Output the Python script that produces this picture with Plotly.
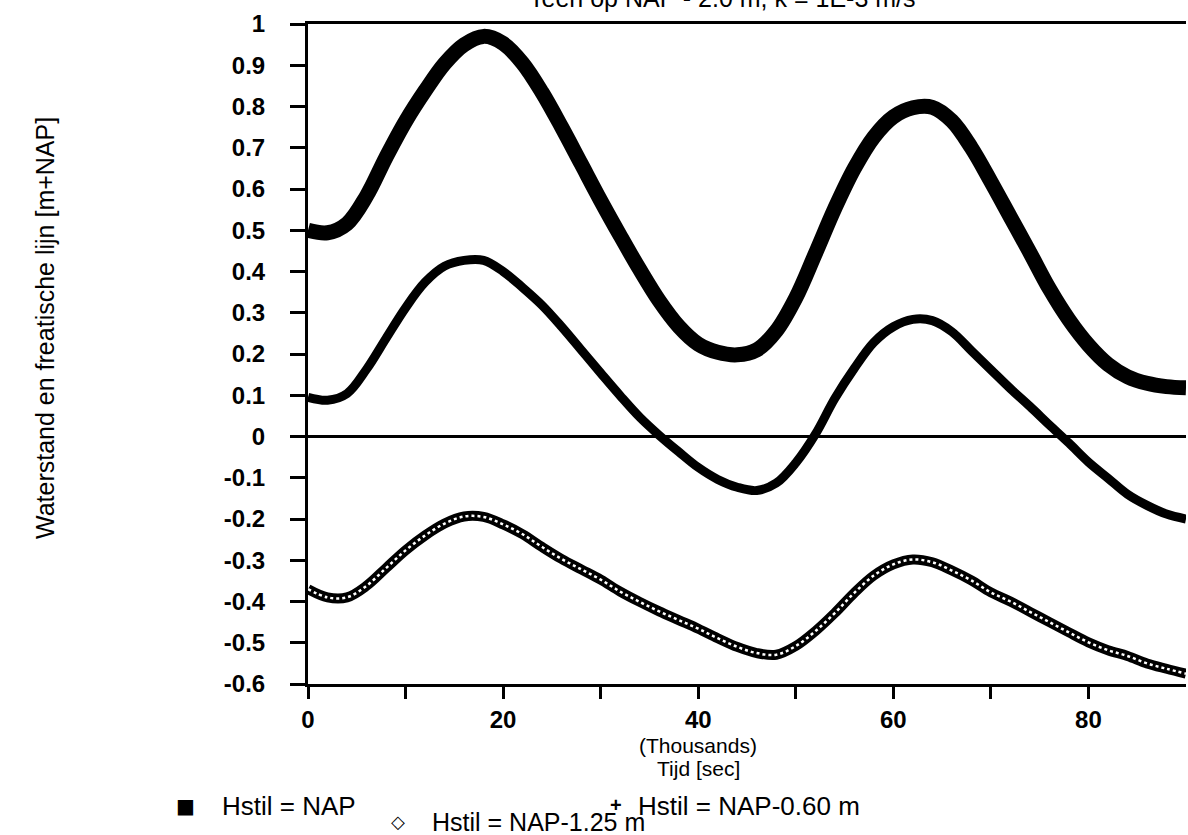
import plotly.graph_objects as go

# Time in thousands of seconds
tijd = [0, 2, 4, 6, 8, 10, 12, 14, 16, 18, 20, 22, 24, 26, 28, 30, 32, 34, 36, 38, 40, 42, 44,
        46, 48, 50, 52, 54, 56, 58, 60, 62, 64, 66, 68, 70, 72, 74, 76, 78, 80, 82, 84, 86, 88, 90]

hstil_nap = [0.500, 0.494, 0.516, 0.583, 0.677, 0.764, 0.838, 0.904, 0.950, 0.970, 0.953, 0.905,
             0.834, 0.750, 0.661, 0.572, 0.487, 0.405, 0.329, 0.267, 0.224, 0.204, 0.198,
             0.210, 0.256, 0.336, 0.443, 0.553, 0.650, 0.726, 0.775, 0.797, 0.798, 0.765,
             0.700, 0.618, 0.532, 0.446, 0.358, 0.283, 0.222, 0.175, 0.145, 0.129, 0.121, 0.118]

hstil_060 = [0.095, 0.088, 0.104, 0.163, 0.238, 0.312, 0.374, 0.413, 0.427, 0.427, 0.400, 0.361,
             0.318, 0.266, 0.210, 0.154, 0.099, 0.047, 0.003, -0.037, -0.075, -0.104, -0.123,
             -0.131, -0.113, -0.064, 0.005, 0.092, 0.165, 0.228, 0.266, 0.284, 0.281, 0.254,
             0.208, 0.162, 0.116, 0.073, 0.028, -0.016, -0.062, -0.101, -0.140, -0.167, -0.188, -0.200]

hstil_125 = [-0.370, -0.390, -0.390, -0.362, -0.319, -0.276, -0.240, -0.211, -0.194, -0.195, -0.213,
             -0.237, -0.268, -0.297, -0.322, -0.347, -0.376, -0.401, -0.424, -0.445, -0.466, -0.489,
             -0.510, -0.525, -0.529, -0.508, -0.472, -0.428, -0.379, -0.337, -0.310, -0.298, -0.305,
             -0.325, -0.349, -0.378, -0.400, -0.425, -0.450, -0.475, -0.499, -0.518, -0.532, -0.550,
             -0.563, -0.575]

y_tickvals = [-0.6, -0.5, -0.4, -0.3, -0.2, -0.1, 0, 0.1, 0.2, 0.3, 0.4, 0.5, 0.6, 0.7, 0.8, 0.9, 1]
y_ticktext = ["-0.6", "-0.5", "-0.4", "-0.3", "-0.2", "-0.1", "0", "0.1", "0.2", "0.3", "0.4",
              "0.5", "0.6", "0.7", "0.8", "0.9", "1"]
x_tickvals = [0, 10, 20, 30, 40, 50, 60, 70, 80]
x_ticktext = ["0", "", "20", "", "40", "", "60", "", "80"]

series_names = ["Hstil = NAP", "Hstil = NAP-0.60 m", "Hstil = NAP-1.25 m"]

FONT = "Liberation Sans, Arial, Helvetica, sans-serif"

fig = go.Figure()
fig.add_trace(go.Scatter(x=tijd, y=hstil_nap, mode="lines", name=series_names[0],
                         line=dict(color="black", width=15, shape="spline")))
fig.add_trace(go.Scatter(x=tijd, y=hstil_060, mode="lines", name=series_names[1],
                         line=dict(color="black", width=9, shape="spline")))
fig.add_trace(go.Scatter(x=tijd, y=hstil_125, mode="lines", name=series_names[2],
                         line=dict(color="black", width=10, shape="spline")))
fig.add_trace(go.Scatter(x=tijd, y=hstil_125, mode="lines", showlegend=False, hoverinfo="skip",
                         line=dict(color="white", width=2.5, shape="spline", dash="dot")))

W, H = 1188, 835
ML, MR, MT, MB = 308, 2, 24, 151
PW, PH = W - ML - MR, H - MT - MB


def px(xp):
    return (xp - ML) / PW


def py(yp):
    return (H - MB - yp) / PH


fig.update_layout(
    width=W, height=H, autosize=False,
    margin=dict(l=ML, r=MR, t=MT, b=MB, pad=0),
    paper_bgcolor="white", plot_bgcolor="white",
    showlegend=False,
    font=dict(family=FONT, color="black"),
    xaxis=dict(range=[0, 90], showgrid=False, zeroline=False,
               showline=True, linecolor="black", linewidth=3, mirror=True,
               ticks="outside", ticklen=12, tickwidth=3, tickcolor="black",
               tickvals=x_tickvals, ticktext=x_ticktext,
               tickfont=dict(size=24, family=FONT, weight="bold", color="black")),
    yaxis=dict(range=[-0.6, 1], showgrid=False,
               zeroline=True, zerolinecolor="black", zerolinewidth=2.5,
               showline=True, linecolor="black", linewidth=3, mirror=False,
               ticks="outside", ticklen=15, tickwidth=3, tickcolor="black",
               tickvals=y_tickvals, ticktext=y_ticktext, ticklabelstandoff=20,
               tickfont=dict(size=24, family=FONT, weight="bold", color="black")),
)

ann = []
ann.append(dict(text="Teen op NAP - 2.0 m, k = 1E-3 m/s", x=px(722), y=py(-2),
                xref="paper", yref="paper", xanchor="center", yanchor="middle",
                showarrow=False, font=dict(size=25, family=FONT)))
ann.append(dict(text="Waterstand en freatische lijn [m+NAP]", x=px(45), y=py(328),
                xref="paper", yref="paper", xanchor="center", yanchor="middle",
                textangle=-90, showarrow=False, font=dict(size=25, family=FONT)))
ann.append(dict(text="(Thousands)", x=px(698), y=py(745), xref="paper", yref="paper",
                xanchor="center", yanchor="middle", showarrow=False,
                font=dict(size=21, family=FONT)))
ann.append(dict(text="Tijd [sec]", x=px(698), y=py(768), xref="paper", yref="paper",
                xanchor="center", yanchor="middle", showarrow=False,
                font=dict(size=21, family=FONT)))
# legend
ann.append(dict(text="■", x=px(185), y=py(806), xref="paper", yref="paper",
                xanchor="center", yanchor="middle", showarrow=False,
                font=dict(size=20, family="DejaVu Sans")))
ann.append(dict(text=series_names[0], x=px(220), y=py(806), xref="paper", yref="paper",
                xanchor="left", yanchor="middle", showarrow=False,
                font=dict(size=26, family=FONT)))
ann.append(dict(text="<b>+</b>", x=px(616), y=py(805), xref="paper", yref="paper",
                xanchor="center", yanchor="middle", showarrow=False,
                font=dict(size=20, family=FONT)))
ann.append(dict(text=series_names[1], x=px(636), y=py(806), xref="paper", yref="paper",
                xanchor="left", yanchor="middle", showarrow=False,
                font=dict(size=26, family=FONT)))
ann.append(dict(text="<b>◇</b>", x=px(398), y=py(822), xref="paper", yref="paper",
                xanchor="center", yanchor="middle", showarrow=False,
                font=dict(size=18, family="DejaVu Sans")))
ann.append(dict(text=series_names[2], x=px(430), y=py(822), xref="paper", yref="paper",
                xanchor="left", yanchor="middle", showarrow=False,
                font=dict(size=25, family=FONT)))
fig.update_layout(annotations=ann)

fig.write_html("out.html")
